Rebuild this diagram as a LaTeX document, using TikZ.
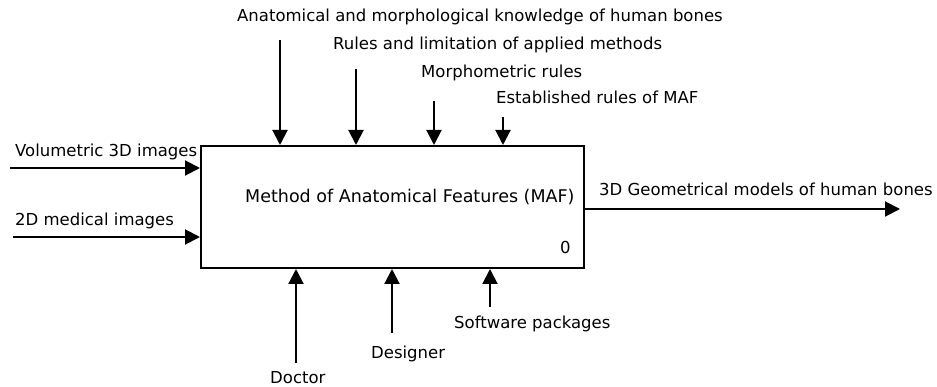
\documentclass[tikz,border=0pt]{standalone}
\usepackage{fontspec}
\setmainfont{DejaVu Sans}
\usetikzlibrary{arrows.meta}
\tikzset{
  flow/.style={line width=2pt, -{Triangle[length=15pt,width=15pt]}},
  lbl/.style={inner sep=0pt, anchor=base west, font=\fontsize{16.5}{19}\selectfont},
}
\begin{document}
\begin{tikzpicture}[x=1pt,y=-1pt]
  \useasboundingbox (0,0) rectangle (937,387);
  % activity box
  \node[draw, line width=2pt, minimum width=383pt, minimum height=122pt, inner sep=0pt] (maf) at (392.5,207) {};
  \node[lbl, font=\fontsize{17.5}{20}\selectfont] (title) at (245,202.7) {Method of Anatomical Features (MAF)};
  \node[lbl] (num) at (560,254) {0};
  % inputs
  \node[lbl] (vol) at (15,157) {Volumetric 3D images};
  \node[lbl] (med) at (15,226) {2D medical images};
  \coordinate (volin) at (10,168);
  \coordinate (medin) at (13,237);
  \draw[flow] (volin) -- (volin -| maf.west);
  \draw[flow] (medin) -- (medin -| maf.west);
  % controls
  \node[lbl] (anat) at (237,21.7) {Anatomical and morphological knowledge of human bones};
  \node[lbl] (rules) at (333,49.3) {Rules and limitation of applied methods};
  \node[lbl] (morph) at (421,77.3) {Morphometric rules};
  \node[lbl] (estab) at (496,104) {Established rules of MAF};
  \coordinate (anatc) at (280,40);
  \coordinate (rulesc) at (356,69);
  \coordinate (morphc) at (434,101);
  \coordinate (estabc) at (503,117);
  \foreach \c in {anatc,rulesc,morphc,estabc}
    \draw[flow] (\c) -- (\c |- maf.north);
  % output
  \coordinate (outp) at (900,209);
  \draw[flow] (outp -| maf.east) -- (outp);
  \node[lbl] (geom) at (599,196) {3D Geometrical models of human bones};
  % mechanisms
  \node[lbl] (soft) at (454,328) {Software packages};
  \node[lbl] (desig) at (371,358) {Designer};
  \node[lbl] (doct) at (270,383) {Doctor};
  \coordinate (softm) at (490,307);
  \coordinate (desigm) at (392,333);
  \coordinate (doctm) at (296,363);
  \foreach \c in {softm,desigm,doctm}
    \draw[flow] (\c) -- (\c |- maf.south);
\end{tikzpicture}
\end{document}
